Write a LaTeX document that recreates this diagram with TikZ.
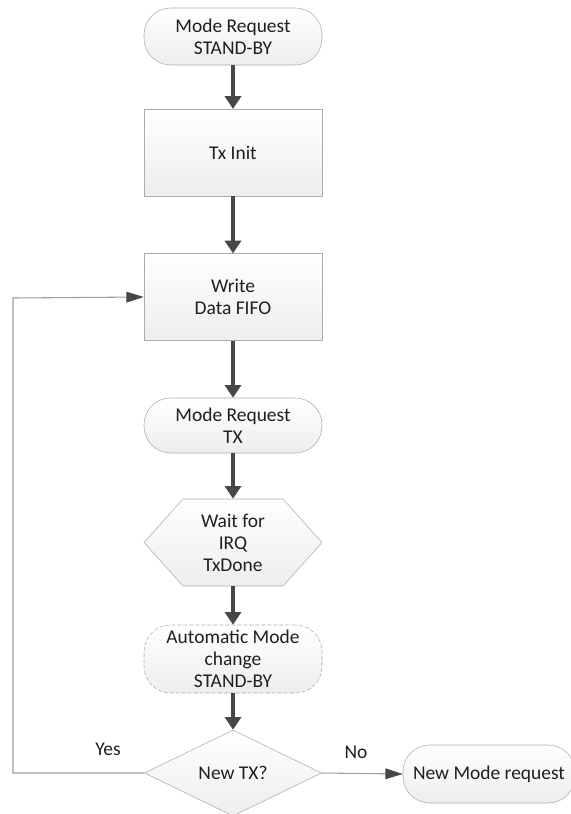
\documentclass[tikz,border=0pt]{standalone}
\usepackage{fontspec}
\setmainfont{Carlito}
\usetikzlibrary{arrows.meta,shapes.geometric}
\tikzset{
    box-text/.style = {align=center, text=black!88, inner sep=2pt, font=\fontsize{14.6pt}{16.5pt}\selectfont},
    box-fill/.style = {draw=gray!65, thin, top color=white, bottom color=gray!14},
    base-box/.style = {box-fill, box-text},
    term-box/.style = {base-box, rectangle, rounded corners=20pt, minimum width=133.5pt},
    proc-box/.style = {base-box, rectangle, minimum width=133.5pt, minimum height=65pt},
    dec-box/.style = {base-box, diamond, aspect=2, minimum width=133pt, minimum height=64.5pt},
    flow-arrow/.style = {draw=black!72, line width=2.4pt, -{Triangle[length=9.5pt,width=12pt]}},
    back-arrow/.style = {draw=gray!75, line width=0.8pt, -{Triangle[length=13pt,width=8pt,color=black!72,fill=black!72]}},
    branch-label/.style = {text=black!88, font=\fontsize{14.6pt}{16.5pt}\selectfont},
}
\begin{document}
\begin{tikzpicture}[x=0.75pt, y=-0.75pt]
\useasboundingbox (0,0) rectangle (571,814);
% boxes, top to bottom
\node [term-box, minimum height=42.75pt] (req-sb) at (233,36.5) {Mode Request\\STAND-BY};
\node [proc-box] (tx-init) at (233,152.5) {Tx Init};
\node [proc-box] (write-fifo) at (233,297) {Write\\Data FIFO};
\node [term-box, minimum height=41.25pt] (req-tx) at (233,425.5) {Mode Request\\TX};
\draw [box-fill] (144,542.5) -- (183,499) -- (283,499) -- (322,542.5) -- (283,586) -- (183,586) -- cycle;
\node [box-text, minimum width=133.5pt, minimum height=65.25pt] (wait-irq) at (233,542.5) {Wait for\\IRQ\\TxDone};
\node [term-box, minimum height=51pt, dashed, dash pattern=on 3pt off 1.5pt] (auto-sb) at (233,659) {Automatic Mode\\change\\STAND-BY};
\node [dec-box] (new-tx) at (233,773) {New TX?};
\node [term-box, minimum width=129pt, minimum height=43.5pt] (new-req) at (489,774) {New Mode request};
% connectors
\draw [flow-arrow] (req-sb) -- (tx-init);
\draw [flow-arrow] (tx-init) -- (write-fifo);
\draw [flow-arrow] (write-fifo) -- (req-tx);
\draw [flow-arrow] (req-tx.south) -- (wait-irq.north);
\draw [flow-arrow] (wait-irq.south) -- (auto-sb.north);
\draw [flow-arrow] (auto-sb) -- (new-tx);
\draw [back-arrow] (new-tx.east) -- (new-req.west);
\draw [back-arrow] (new-tx.west) -- (13,773) -- (13,298) -- (write-fifo.west);
\node [branch-label] (yes-lbl) at (108,749) {Yes};
\node [branch-label] (no-lbl) at (356,752) {No};
\end{tikzpicture}
\end{document}
